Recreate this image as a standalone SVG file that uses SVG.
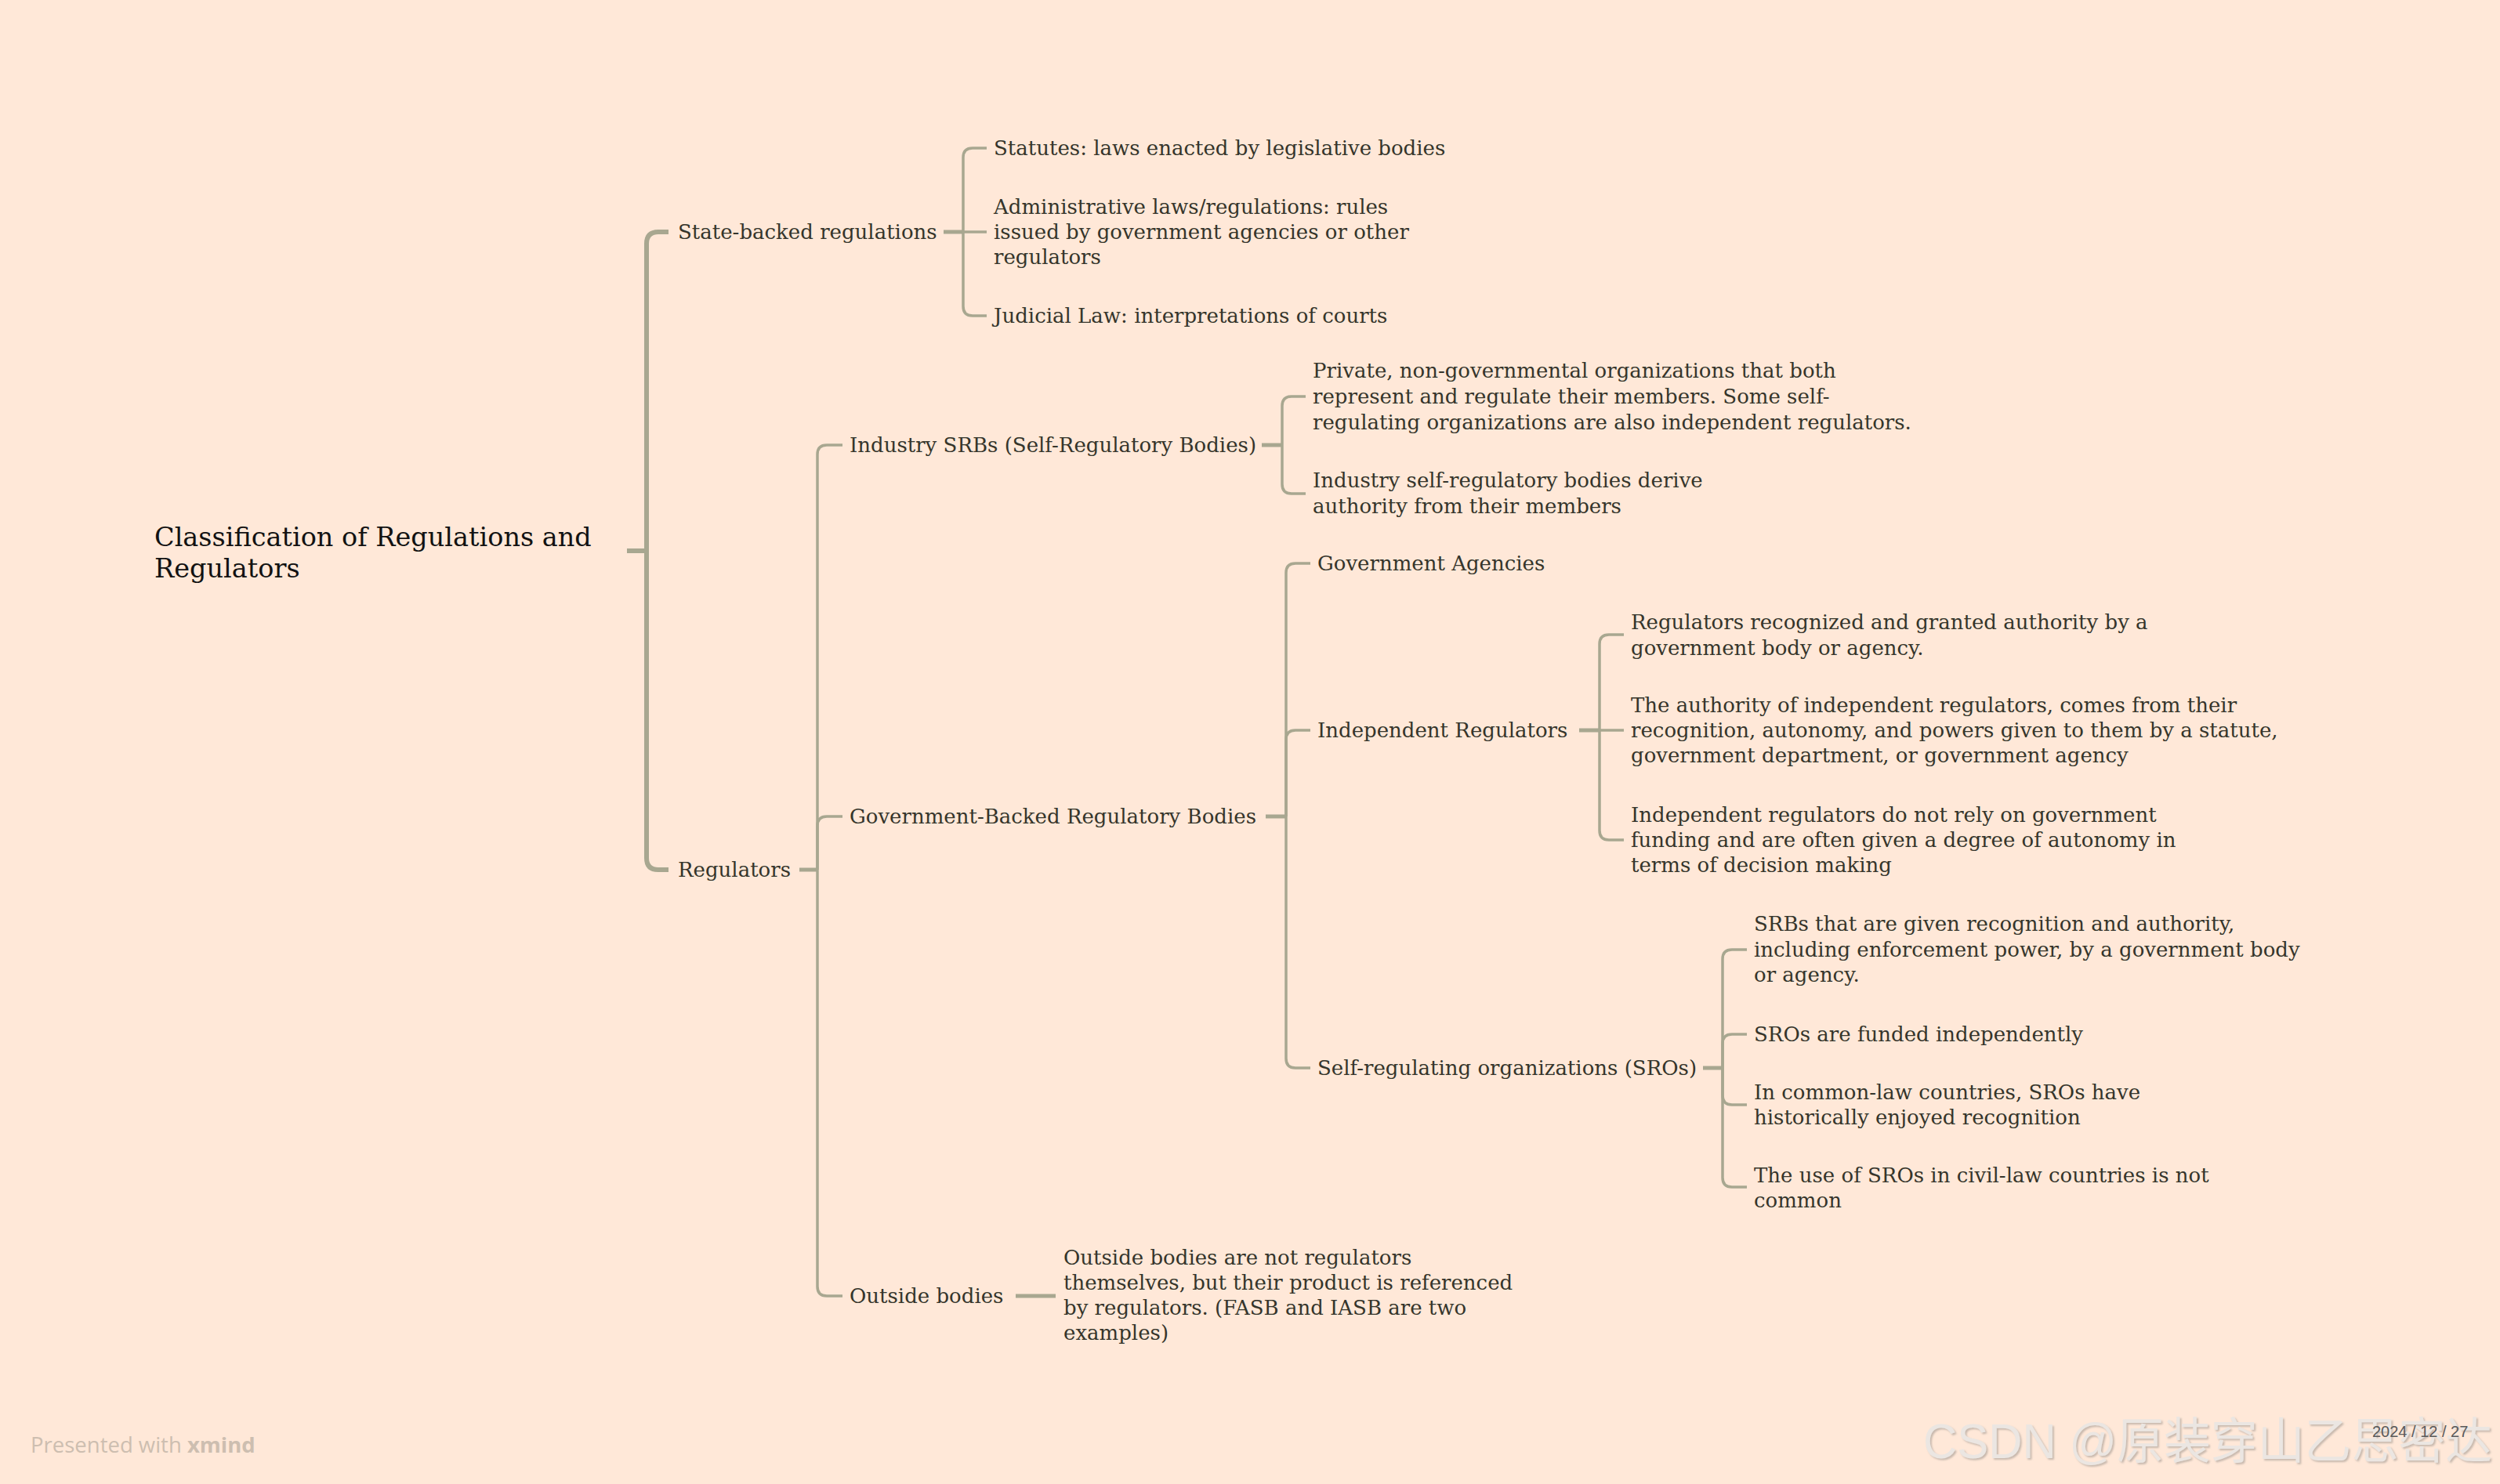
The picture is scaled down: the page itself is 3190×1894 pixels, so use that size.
<svg xmlns="http://www.w3.org/2000/svg" width="3190" height="1894" viewBox="0 0 3190 1894">
<defs>
<style>
.t{font-family:"DejaVu Serif","Liberation Serif",serif;font-size:26px;fill:#35352b}
.root{font-family:"DejaVu Serif","Liberation Serif",serif;font-size:33.5px;fill:#121212}
.br0{fill:none;stroke:#a8a790;stroke-width:6;stroke-linecap:butt}
.stub{fill:none;stroke:#a8a790;stroke-width:5}
.br{fill:none;stroke:#a8a790;stroke-width:3.5}
.foot{font-family:"Open Sans",Lato,sans-serif;font-size:27.5px;fill:#cdbeb0}
.wm{font-family:"Liberation Sans","Noto Sans CJK SC",sans-serif;font-size:63px;fill:#ebe6e2}
.date{font-family:"Liberation Sans",sans-serif;font-size:20px;fill:#5a5a5a}
</style>
<filter id="emb" x="-5%" y="-20%" width="110%" height="140%">
<feDropShadow dx="2" dy="2" stdDeviation="1" flood-color="#9a928a" flood-opacity="0.55"/>
</filter>
</defs>
<rect width="3190" height="1894" fill="#ffe8d8"/>

<g id="connectors">
<path class="br0" d="M800,703 H825"/>
<path class="br0" d="M825,703 V311 Q825,296 840,296 H853"/>
<path class="br0" d="M825,703 V1095 Q825,1110 840,1110 H853"/>
<path class="stub" d="M1204,296 H1229"/>
<path class="br" d="M1229,296 V201 Q1229,189 1241,189 H1259"/>
<path class="br" d="M1229,296 H1259"/>
<path class="br" d="M1229,296 V391 Q1229,403 1241,403 H1259"/>
<path class="stub" d="M1020,1110 H1043"/>
<path class="br" d="M1043,1110 V580 Q1043,568 1055,568 H1075"/>
<path class="br" d="M1043,1110 V1054 Q1043,1042 1055,1042 H1075"/>
<path class="br" d="M1043,1110 V1642 Q1043,1654 1055,1654 H1075"/>
<path class="stub" d="M1610,568 H1636"/>
<path class="br" d="M1636,568 V518 Q1636,506 1648,506 H1666"/>
<path class="br" d="M1636,568 V618 Q1636,630 1648,630 H1666"/>
<path class="stub" d="M1615,1042 H1641"/>
<path class="br" d="M1641,1042 V731 Q1641,719 1653,719 H1672"/>
<path class="br" d="M1641,1042 V944 Q1641,932 1653,932 H1672"/>
<path class="br" d="M1641,1042 V1351 Q1641,1363 1653,1363 H1672"/>
<path class="stub" d="M2015,932 H2041"/>
<path class="br" d="M2041,932 V822 Q2041,810 2053,810 H2072"/>
<path class="br" d="M2041,932 H2072"/>
<path class="br" d="M2041,932 V1060 Q2041,1072 2053,1072 H2072"/>
<path class="stub" d="M2173,1363 H2198"/>
<path class="br" d="M2198,1363 V1224 Q2198,1212 2210,1212 H2229"/>
<path class="br" d="M2198,1363 V1332 Q2198,1320 2210,1320 H2229"/>
<path class="br" d="M2198,1363 V1398 Q2198,1410 2210,1410 H2229"/>
<path class="br" d="M2198,1363 V1503 Q2198,1515 2210,1515 H2229"/>
<path class="stub" d="M1296,1654 H1347"/>
</g>

<g id="n-root"><text class="root" x="197" y="697">Classification of Regulations and<tspan x="197" dy="40">Regulators</tspan></text></g>

<g id="n-state"><text class="t" x="865" y="305">State-backed regulations</text></g>
<g id="n-statutes"><text class="t" x="1268" y="198">Statutes: laws enacted by legislative bodies</text></g>
<g id="n-admin"><text class="t" x="1268" y="273">Administrative laws/regulations: rules<tspan x="1268" dy="32">issued by government agencies or other</tspan><tspan x="1268" dy="32">regulators</tspan></text></g>
<g id="n-judicial"><text class="t" x="1268" y="412">Judicial Law: interpretations of courts</text></g>

<g id="n-regulators"><text class="t" x="865" y="1119">Regulators</text></g>
<g id="n-industry"><text class="t" x="1084" y="577">Industry SRBs (Self-Regulatory Bodies)</text></g>
<g id="n-private"><text class="t" x="1675" y="482">Private, non-governmental organizations that both<tspan x="1675" dy="33">represent and regulate their members. Some self-</tspan><tspan x="1675" dy="33">regulating organizations are also independent regulators.</tspan></text></g>
<g id="n-derive"><text class="t" x="1675" y="622">Industry self-regulatory bodies derive<tspan x="1675" dy="33">authority from their members</tspan></text></g>

<g id="n-govbacked"><text class="t" x="1084" y="1051">Government-Backed Regulatory Bodies</text></g>
<g id="n-agencies"><text class="t" x="1681" y="728">Government Agencies</text></g>
<g id="n-indep"><text class="t" x="1681" y="941">Independent Regulators</text></g>
<g id="n-ind1"><text class="t" x="2081" y="803">Regulators recognized and granted authority by a<tspan x="2081" dy="33">government body or agency.</tspan></text></g>
<g id="n-ind2"><text class="t" x="2081" y="909">The authority of independent regulators, comes from their<tspan x="2081" dy="32">recognition, autonomy, and powers given to them by a statute,</tspan><tspan x="2081" dy="32">government department, or government agency</tspan></text></g>
<g id="n-ind3"><text class="t" x="2081" y="1049">Independent regulators do not rely on government<tspan x="2081" dy="32">funding and are often given a degree of autonomy in</tspan><tspan x="2081" dy="32">terms of decision making</tspan></text></g>

<g id="n-sros"><text class="t" x="1681" y="1372">Self-regulating organizations (SROs)</text></g>
<g id="n-sro1"><text class="t" x="2238" y="1188">SRBs that are given recognition and authority,<tspan x="2238" dy="33">including enforcement power, by a government body</tspan><tspan x="2238" dy="32">or agency.</tspan></text></g>
<g id="n-sro2"><text class="t" x="2238" y="1329">SROs are funded independently</text></g>
<g id="n-sro3"><text class="t" x="2238" y="1403">In common-law countries, SROs have<tspan x="2238" dy="32">historically enjoyed recognition</tspan></text></g>
<g id="n-sro4"><text class="t" x="2238" y="1509">The use of SROs in civil-law countries is not<tspan x="2238" dy="32">common</tspan></text></g>

<g id="n-outside"><text class="t" x="1084" y="1663">Outside bodies</text></g>
<g id="n-outside1"><text class="t" x="1357" y="1614">Outside bodies are not regulators<tspan x="1357" dy="32">themselves, but their product is referenced</tspan><tspan x="1357" dy="32">by regulators. (FASB and IASB are two</tspan><tspan x="1357" dy="32">examples)</tspan></text></g>

<g id="footer">
<text class="foot" x="39" y="1854">Presented with <tspan font-weight="bold">xmind</tspan></text>
<text class="wm" x="2454" y="1861" textLength="726" lengthAdjust="spacingAndGlyphs" filter="url(#emb)">CSDN @原装穿山乙思密达</text>
<text class="date" x="3027" y="1834">2024 / 12 / 27</text>
</g>
</svg>
